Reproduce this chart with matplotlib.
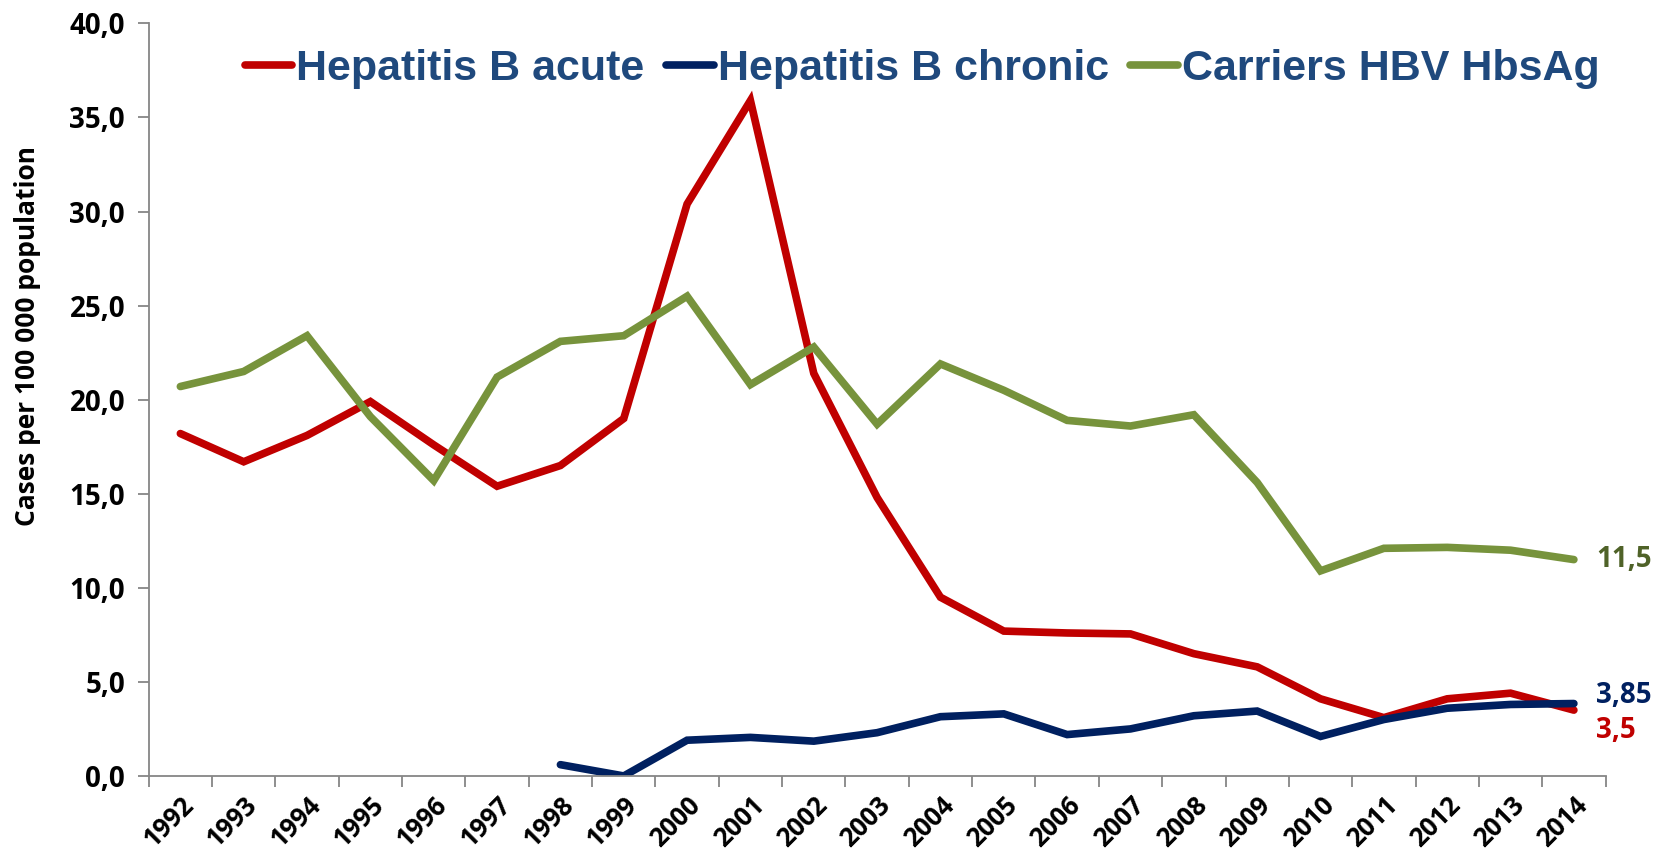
import matplotlib
matplotlib.use("Agg")
import matplotlib.pyplot as plt
from matplotlib.ticker import FixedLocator, FuncFormatter
import numpy as np

years = [str(y) for y in range(1992, 2015)]
acute = [18.2, 16.7, 18.1, 19.9, 17.6, 15.4, 16.5, 19.0, 30.4, 35.9, 21.4, 14.8,
         9.5, 7.7, 7.6, 7.55, 6.5, 5.8, 4.1, 3.1, 4.1, 4.4, 3.5]
chronic = [None, None, None, None, None, None, 0.6, 0.0, 1.9, 2.05, 1.85, 2.3,
           3.15, 3.3, 2.2, 2.5, 3.2, 3.45, 2.1, 3.0, 3.6, 3.8, 3.85]
carriers = [20.7, 21.5, 23.4, 19.1, 15.7, 21.2, 23.1, 23.4, 25.5, 20.8, 22.8, 18.7,
            21.9, 20.5, 18.9, 18.6, 19.2, 15.6, 10.9, 12.1, 12.15, 12.0, 11.5]
series_names = ["Hepatitis B acute", "Hepatitis B chronic", "Carriers HBV HbsAg"]
colors = ["#C00000", "#002060", "#77933C"]
end_labels = ["3,5", "3,85", "11,5"]
end_colors = ["#C00000", "#002060", "#4F6228"]

tick_font = "Open Sans"
fig = plt.figure(figsize=(16.65, 8.64), dpi=100)
ax = fig.add_axes([0.0893, 0.1019, 0.875, 0.871])

x = np.arange(len(years))
data = [acute, chronic, carriers]
lines = []
for vals, c, name in zip(data, colors, series_names):
    y = np.array([np.nan if v is None else v for v in vals], dtype=float)
    ln, = ax.plot(x, y, color=c, lw=5.5, solid_capstyle="round", solid_joinstyle="miter", label=name)
    lines.append(ln)

ax.set_xlim(-0.5, len(years) - 0.5)
ax.set_ylim(0, 40)
ax.set_yticks(np.arange(0, 41, 5))
ax.yaxis.set_major_formatter(FuncFormatter(lambda v, p: f"{v:.1f}".replace(".", ",")))
ax.set_xticks(x)
ax.set_xticklabels(years, rotation=45, ha="right", rotation_mode="anchor")
ax.xaxis.set_minor_locator(FixedLocator(np.arange(-0.5, len(years), 1.0)))
ax.tick_params(axis="x", which="major", length=0, pad=11)
ax.tick_params(axis="x", which="minor", length=8, width=1.3, color="#868686", direction="out")
ax.tick_params(axis="y", length=8, width=1.3, color="#868686", direction="out", pad=9)
for lab in ax.get_yticklabels():
    lab.set_fontfamily(tick_font)
    lab.set_fontweight("bold")
    lab.set_fontsize(20)
for lab in ax.get_xticklabels():
    lab.set_fontfamily(tick_font)
    lab.set_fontweight("bold")
    lab.set_fontsize(18.5)
for s in ["top", "right"]:
    ax.spines[s].set_visible(False)
for s in ["left", "bottom"]:
    ax.spines[s].set_color("#868686")
    ax.spines[s].set_linewidth(1.3)

ylab = ax.set_ylabel("Cases per 100 000 population", fontfamily=tick_font, fontweight="bold", fontsize=19)
ylab.set_verticalalignment("center")
ax.yaxis.set_label_coords(-0.0835, 0.584)

for vals, lab, c, dy in zip(data, end_labels, end_colors, [-15, 6, 0]):
    ax.annotate(lab, xy=(x[-1], vals[-1]), xytext=(16, dy), textcoords="offset points",
                ha="left", va="center", color=c, fontfamily=tick_font, fontweight="bold", fontsize=20)

leg = ax.legend(handles=lines, loc="upper center", bbox_to_anchor=(0.531, 1.018), ncol=3, frameon=False,
                handlelength=1.1, handletextpad=0.1, columnspacing=0.5,
                prop={"family": "Liberation Sans", "weight": "bold", "size": 31})
for t in leg.get_texts():
    t.set_color("#1F497D")

fig.savefig("out.png", dpi=100)
